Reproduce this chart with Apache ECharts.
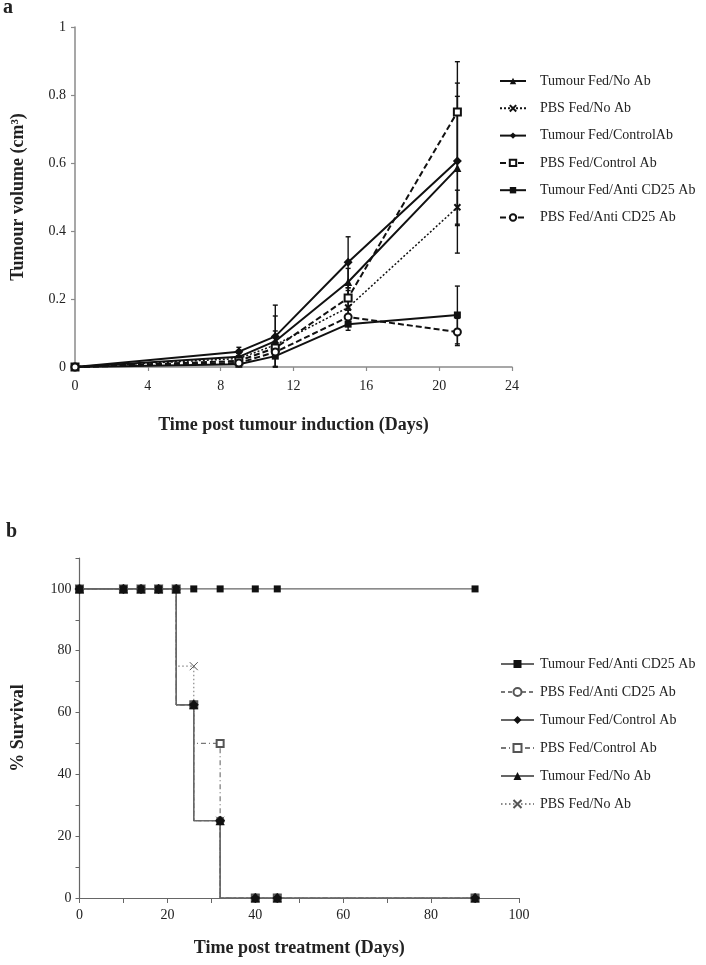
<!DOCTYPE html>
<html><head><meta charset="utf-8">
<script src="https://cdn.jsdelivr.net/npm/echarts@6/dist/echarts.min.js"></script>
<style>html,body{margin:0;padding:0;background:#fff}#c{width:706px;height:965px}</style>
</head><body><div id="c"></div>
<script>
// ---------- Panel a: tumour volume ----------
const volDays = [0, 9, 11, 15, 21];
const volNames = ['Tumour Fed/No Ab', 'PBS Fed/No Ab', 'Tumour Fed/ControlAb', 'PBS Fed/Control Ab', 'Tumour Fed/Anti CD25 Ab', 'PBS Fed/Anti CD25 Ab'];
const volTumourNoAb      = [0, 0.030, 0.076, 0.250, 0.585];
const volPBSNoAb         = [0, 0.025, 0.065, 0.175, 0.470];
const volTumourControl   = [0, 0.045, 0.090, 0.308, 0.606];
const volPBSControl      = [0, 0.018, 0.056, 0.203, 0.750];
const volTumourAnti      = [0, 0.008, 0.032, 0.126, 0.153];
const volPBSAnti         = [0, 0.012, 0.044, 0.147, 0.103];
const errTumourNoAb      = [0, 0.010, 0.030, 0.040, 0.250];
const errPBSNoAb         = [0, 0.008, 0.085, 0.050, 0.050];
const errTumourControl   = [0, 0.013, 0.092, 0.075, 0.190];
const errPBSControl      = [0, 0.005, 0.020, 0.030, 0.148];
const errTumourAnti      = [0, 0.004, 0.030, 0.018, 0.085];
const errPBSAnti         = [0, 0.005, 0.015, 0.020, 0.040];
const xTicksA = [0, 4, 8, 12, 16, 20, 24];
const yTicksA = [0, 0.2, 0.4, 0.6, 0.8, 1];

// ---------- Panel b: survival ----------
const survDays = [0, 10, 14, 18, 22, 26, 32, 40, 45, 90];
const survNames = ['Tumour Fed/Anti CD25 Ab', 'PBS Fed/Anti CD25 Ab', 'Tumour Fed/Control Ab', 'PBS Fed/Control Ab', 'Tumour Fed/No Ab', 'PBS Fed/No Ab'];
const survTumourAnti    = [100, 100, 100, 100, 100, 100, 100, 100, 100, 100];
const survPBSAnti       = [100, 100, 100, 100, 100, 62.5, 25, 0, 0, 0];
const survTumourControl = [100, 100, 100, 100, 100, 62.5, 25, 0, 0, 0];
const survPBSControl    = [100, 100, 100, 100, 100, 62.5, 50, 0, 0, 0];
const survTumourNoAb    = [100, 100, 100, 100, 100, 62.5, 25, 0, 0, 0];
const survPBSNoAb       = [100, 100, 100, 100, 100, 75, 25, 0, 0, 0];
const xTicksB = [0, 20, 40, 60, 80, 100];
const yTicksB = [0, 20, 40, 60, 80, 100];

const FONT = 'Liberation Serif';
const INK = '#111';
const AX = '#8a8a8a';
const CROSS = 'path://M0,0L10,10M10,0L0,10';

const zip = (xs, ys) => xs.map((x, i) => [x, ys[i]]);

// panel a series
const volVals = [volTumourNoAb, volPBSNoAb, volTumourControl, volPBSControl, volTumourAnti, volPBSAnti];
const volErrs = [errTumourNoAb, errPBSNoAb, errTumourControl, errPBSControl, errTumourAnti, errPBSAnti];
const volStyle = [
  {type: 'solid', w: 2, sym: 'triangle', size: 8},
  {type: [2, 2], w: 1.5, sym: CROSS, size: 6, bw: 2},
  {type: 'solid', w: 2, sym: 'diamond', size: 9},
  {type: [6, 3], w: 2, sym: 'emptyRect', size: 7, bw: 1.5},
  {type: 'solid', w: 2, sym: 'rect', size: 7},
  {type: [6, 3], w: 2, sym: 'emptyCircle', size: 7, bw: 1.5}
];
const series = [];
volNames.forEach((n, i) => {
  const st = volStyle[i];
  series.push({
    name: n, type: 'line', xAxisIndex: 0, yAxisIndex: 0,
    data: zip(volDays, volVals[i]),
    showAllSymbol: true, symbol: st.sym, symbolSize: st.size,
    lineStyle: {color: INK, width: st.w, type: st.type},
    itemStyle: {color: INK, borderColor: INK, borderWidth: st.bw || 0},
    emphasis: {disabled: true}, animation: false, z: 3
  });
});
const errData = [];
volVals.forEach((vals, i) => {
  vals.forEach((v, j) => {
    const e = volErrs[i][j];
    if (e > 0) errData.push([volDays[j], Math.max(0, v - e), v + e]);
  });
});
series.push({
  type: 'custom', xAxisIndex: 0, yAxisIndex: 0, data: errData, animation: false, z: 2,
  encode: {x: 0, y: [1, 2]},
  renderItem: function (params, api) {
    const x = api.value(0);
    const pl = api.coord([x, api.value(1)]);
    const ph = api.coord([x, api.value(2)]);
    const c = 2.5;
    const s = {stroke: INK, lineWidth: 1.4};
    return {type: 'group', children: [
      {type: 'line', shape: {x1: pl[0], y1: pl[1], x2: ph[0], y2: ph[1]}, style: s},
      {type: 'line', shape: {x1: ph[0] - c, y1: ph[1], x2: ph[0] + c, y2: ph[1]}, style: s},
      {type: 'line', shape: {x1: pl[0] - c, y1: pl[1], x2: pl[0] + c, y2: pl[1]}, style: s}
    ]};
  }
});

// panel b series
const survVals = [survTumourAnti, survPBSAnti, survTumourControl, survPBSControl, survTumourNoAb, survPBSNoAb];
const survStyle = [
  {type: 'solid', col: '#666', sym: 'rect', size: 7, z: 9},
  {type: [4, 3], col: '#777', sym: 'emptyCircle', size: 7, bw: 1, z: 4},
  {type: 'solid', col: '#666', sym: 'diamond', size: 10, z: 8},
  {type: [5, 3, 1, 3], col: '#777', sym: 'emptyRect', size: 7, bw: 1, z: 5},
  {type: 'solid', col: '#666', sym: 'triangle', size: 9, z: 7},
  {type: [1.5, 2.5], col: '#888', sym: CROSS, size: 8, bw: 1, z: 4}
];
survNames.forEach((n, i) => {
  const st = survStyle[i];
  series.push({
    name: 'b:' + n, type: 'line', xAxisIndex: 1, yAxisIndex: 1, step: 'start',
    data: zip(survDays, survVals[i]),
    showAllSymbol: true, symbol: st.sym, symbolSize: st.size,
    lineStyle: {color: st.col, width: 1.2, type: st.type},
    itemStyle: {color: st.bw ? '#555' : INK, borderColor: st.bw ? '#555' : INK, borderWidth: st.bw || 0},
    emphasis: {disabled: true}, animation: false, z: st.z
  });
});

const labelStyle = {color: '#222', fontFamily: FONT, fontSize: 14};
const nameStyle = {color: '#222', fontFamily: FONT, fontSize: 18, fontWeight: 'bold'};

const option = {
  backgroundColor: '#fff',
  animation: false,
  textStyle: {fontFamily: FONT},
  graphic: [
    {type: 'text', x: 3, y: 8, style: {text: 'a', font: 'bold 20px "Liberation Serif"', fill: '#222', verticalAlign: 'middle'}},
    {type: 'text', x: 6, y: 532, style: {text: 'b', font: 'bold 20px "Liberation Serif"', fill: '#222', verticalAlign: 'middle'}}
  ],
  grid: [
    {left: 75, top: 27, width: 437, height: 340},
    {left: 79.5, top: 558, width: 439.5, height: 340}
  ],
  xAxis: [
    {gridIndex: 0, type: 'value', min: xTicksA[0], max: xTicksA[xTicksA.length - 1], interval: xTicksA[1] - xTicksA[0],
     axisLine: {onZero: false, lineStyle: {color: AX, width: 1.5}},
     axisTick: {length: 4, lineStyle: {color: AX, width: 1.2}},
     splitLine: {show: false}, axisLabel: Object.assign({margin: 12}, labelStyle),
     name: 'Time post tumour induction (Days)', nameLocation: 'middle', nameGap: 49, nameTextStyle: nameStyle},
    {gridIndex: 1, type: 'value', min: 0, max: xTicksB[xTicksB.length - 1], interval: 10,
     axisLine: {onZero: false, lineStyle: {color: '#666', width: 1.2}},
     axisTick: {length: 5, lineStyle: {color: '#666', width: 1}},
     splitLine: {show: false},
     axisLabel: Object.assign({margin: 10, formatter: v => (xTicksB.indexOf(v) >= 0 ? String(v) : '')}, labelStyle),
     name: 'Time post treatment (Days)', nameLocation: 'middle', nameGap: 41, nameTextStyle: nameStyle}
  ],
  yAxis: [
    {gridIndex: 0, type: 'value', min: yTicksA[0], max: yTicksA[yTicksA.length - 1], interval: 0.2,
     axisLine: {show: true, onZero: false, lineStyle: {color: AX, width: 1.5}},
     axisTick: {show: true, length: 4, lineStyle: {color: AX, width: 1.2}},
     splitLine: {show: false}, axisLabel: Object.assign({margin: 9}, labelStyle),
     name: 'Tumour volume (cm³)', nameLocation: 'middle', nameGap: 48, nameTextStyle: nameStyle},
    {gridIndex: 1, type: 'value', min: 0, max: 110, interval: 10,
     axisLine: {show: true, onZero: false, lineStyle: {color: '#666', width: 1.2}},
     axisTick: {show: true, length: 4, lineStyle: {color: '#666', width: 1}},
     splitLine: {show: false},
     axisLabel: Object.assign({margin: 8, formatter: v => (yTicksB.indexOf(v) >= 0 ? String(v) : '')}, labelStyle),
     name: '% Survival', nameLocation: 'middle', nameGap: 52, nameTextStyle: nameStyle}
  ],
  legend: [
    {orient: 'vertical', left: 499, top: 74, padding: 0, itemWidth: 26, itemHeight: 8, itemGap: 13.3,
     data: volNames, selectedMode: false,
     textStyle: {color: '#222', fontFamily: FONT, fontSize: 14, padding: [0, 0, 0, 9]}},
    {orient: 'vertical', left: 500, top: 657, padding: 0, itemWidth: 33, itemHeight: 10, itemGap: 14,
     data: survNames.map(n => 'b:' + n), selectedMode: false,
     formatter: n => n.replace(/^b:/, ''),
     textStyle: {color: '#222', fontFamily: FONT, fontSize: 14, padding: [0, 0, 0, 1]}}
  ],
  series: series
};

const chart = echarts.init(document.getElementById('c'), null, {renderer: 'canvas'});
chart.setOption(option);
</script>
</body></html>
